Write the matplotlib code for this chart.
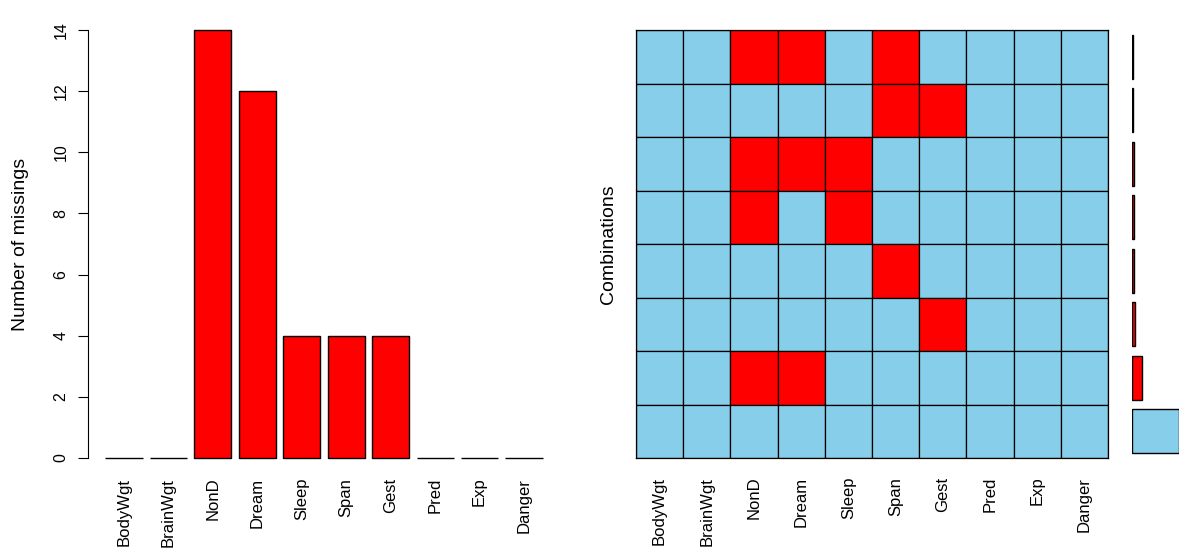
import matplotlib.pyplot as plt
import numpy as np

plt.rcParams['font.family'] = ['Liberation Sans', 'DejaVu Sans']

variables = ['BodyWgt', 'BrainWgt', 'NonD', 'Dream', 'Sleep',
             'Span', 'Gest', 'Pred', 'Exp', 'Danger']
n_missing = [0, 0, 14, 12, 4, 4, 4, 0, 0, 0]

# missing patterns, top row first (1 = missing)
patterns = [
    [0, 0, 1, 1, 0, 1, 0, 0, 0, 0],
    [0, 0, 0, 0, 0, 1, 1, 0, 0, 0],
    [0, 0, 1, 1, 1, 0, 0, 0, 0, 0],
    [0, 0, 1, 0, 1, 0, 0, 0, 0, 0],
    [0, 0, 0, 0, 0, 1, 0, 0, 0, 0],
    [0, 0, 0, 0, 0, 0, 1, 0, 0, 0],
    [0, 0, 1, 1, 0, 0, 0, 0, 0, 0],
    [0, 0, 0, 0, 0, 0, 0, 0, 0, 0],
]
pattern_counts = [1, 1, 2, 2, 2, 3, 9, 42]

col_obs = '#87CEEB'
col_miss = '#FF0000'

W, H = 1200, 556
fig = plt.figure(figsize=(W / 100, H / 100), dpi=100)


def px_axes(x0, y0, x1, y1):
    return fig.add_axes([x0 / W, 1 - y1 / H, (x1 - x0) / W, (y1 - y0) / H])


# left: barplot of missings
ax1 = px_axes(88, 13, 560, 475)
pos = 0.7 + 1.2 * np.arange(len(variables))
ax1.bar(pos, n_missing, width=1.0, color=col_miss, edgecolor='black', linewidth=1)
ax1.set_xlim(-0.272, 12.472)
ax1.set_ylim(-0.56, 14.56)
for s in ['top', 'right', 'bottom']:
    ax1.spines[s].set_visible(False)
ax1.spines['left'].set_bounds(0, 14)
ax1.set_yticks(np.arange(0, 15, 2))
ax1.tick_params(axis='y', length=7, pad=7, labelsize=11.5, labelrotation=90)
for lbl in ax1.get_yticklabels():
    lbl.set_va('center')
ax1.set_xticks([])
for p, v in zip(pos, variables):
    ax1.text(p, -0.65, v, rotation=90, ha='center', va='top', fontsize=12)
ax1.set_ylabel('Number of missings', fontsize=14, labelpad=18)

# right: combinations grid
ax2 = px_axes(636, 30, 1108, 458)
nrow = len(patterns)
ncol = len(variables)
for i, row in enumerate(patterns):
    for j, m in enumerate(row):
        ax2.add_patch(plt.Rectangle((j, nrow - 1 - i), 1, 1,
                                    facecolor=col_miss if m else col_obs,
                                    edgecolor='black', linewidth=0.9))
ax2.set_xlim(0, ncol)
ax2.set_ylim(0, nrow)
ax2.set_xticks([])
ax2.set_yticks([])
for s in ax2.spines.values():
    s.set_linewidth(0.9)
for j, v in enumerate(variables):
    ax2.text(j + 0.5, -0.35, v, rotation=90, ha='center', va='top', fontsize=12)
ax2.set_ylabel('Combinations', fontsize=14, labelpad=14)

# proportion bars
ax3 = px_axes(1132, 30, 1179, 458)
ypos = nrow - 1 - np.arange(nrow) + 0.5
bar_cols = [col_miss if any(r) else col_obs for r in patterns]
ax3.barh(ypos, pattern_counts, height=0.82, left=0, color=bar_cols,
         edgecolor='black', linewidth=1)
ax3.set_xlim(0, max(pattern_counts))
ax3.set_ylim(0, nrow)
ax3.axis('off')

fig.savefig('out.png', dpi=100)
